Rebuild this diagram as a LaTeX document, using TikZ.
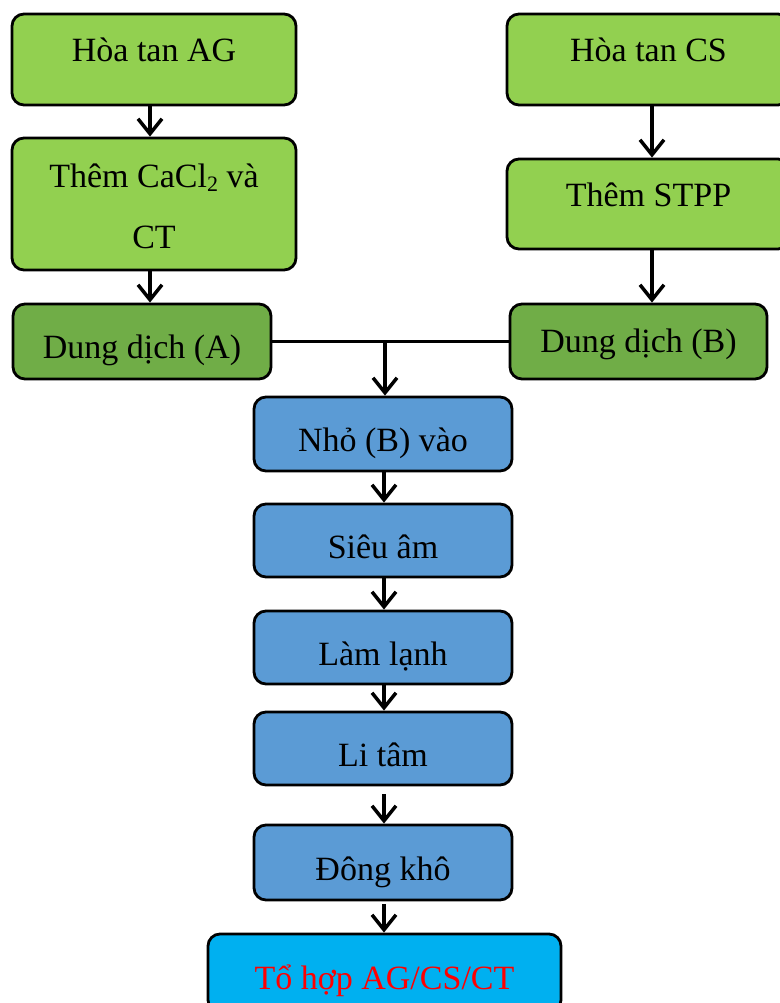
\documentclass[tikz,border=0pt]{standalone}
\usepackage{fontspec}
\setmainfont{Liberation Serif}
\usetikzlibrary{arrows.meta}
\definecolor{lgreen}{HTML}{92D050}
\definecolor{dgreen}{HTML}{70AD47}
\definecolor{mblue}{HTML}{5B9BD5}
\definecolor{cyanb}{HTML}{00B0F0}
\tikzset{
  box/.style={draw=black, line width=2.8pt, rounded corners=12pt, inner sep=0pt, anchor=center},
  lg/.style={box, fill=lgreen},
  dg/.style={box, fill=dgreen},
  bl/.style={box, fill=mblue},
  cy/.style={box, fill=cyanb},
  txt/.style={anchor=base, inner sep=0pt, font=\fontsize{34}{40}\selectfont},
  arr/.style={line width=3.5pt, -{Straight Barb[length=15pt,width=24pt,line width=3.5pt]}},
  ln/.style={line width=3.5pt}
}
\begin{document}
\begin{tikzpicture}[x=1pt,y=-1pt]
\useasboundingbox (0,0) rectangle (779,1003);
% boxes
\node[lg, minimum width=284pt, minimum height=91pt] (ag) at (154,59.5) {};
\node[lg, minimum width=284pt, minimum height=132pt] (th) at (154,204) {};
\node[dg, minimum width=258pt, minimum height=75pt] (dA) at (142,341.5) {};
\node[lg, minimum width=283pt, minimum height=91pt] (cs) at (648.5,59.5) {};
\node[lg, minimum width=283pt, minimum height=90pt] (st) at (648.5,204) {};
\node[dg, minimum width=257pt, minimum height=75pt] (dB) at (638.5,341.5) {};
\node[bl, minimum width=258pt, minimum height=74pt] (b1) at (383,434) {};
\node[bl, minimum width=258pt, minimum height=73pt] (b2) at (383,540.5) {};
\node[bl, minimum width=258pt, minimum height=73pt] (b3) at (383,647.5) {};
\node[bl, minimum width=258pt, minimum height=73pt] (b4) at (383,748.5) {};
\node[bl, minimum width=258pt, minimum height=75pt] (b5) at (383,862.5) {};
\node[cy, minimum width=353pt, minimum height=78pt] (fin) at (384.5,973) {};
% texts
\node[txt] (tag) at (154,62) {Hòa tan AG};
\node[txt] (tth1) at (154,188) {Thêm CaCl\raisebox{-3pt}{\fontsize{22}{24}\selectfont 2} và};
\node[txt] (tth2) at (154,248) {CT};
\node[txt] (tdA) at (142,358) {Dung dịch (A)};
\node[txt] (tcs) at (648.5,62) {Hòa tan CS};
\node[txt] (tst) at (648.5,207) {Thêm STPP};
\node[txt] (tdB) at (638.5,352) {Dung dịch (B)};
\node[txt] (tb1) at (383,451) {Nhỏ (B) vào};
\node[txt] (tb2) at (383,558) {Siêu âm};
\node[txt] (tb3) at (383,665) {Làm lạnh};
\node[txt] (tb4) at (383,766) {Li tâm};
\node[txt] (tb5) at (383,880) {Đông khô};
\node[txt, text=red] (tfin) at (384.5,989) {Tổ hợp AG/CS/CT};
% connectors
\draw[arr] (ag.south -| 150,0) -- (th.north -| 150,0);
\draw[arr] (th.south -| 150,0) -- (dA.north -| 150,0);
\draw[arr] (cs.south -| 652,0) -- (st.north -| 652,0);
\draw[arr] (st.south -| 652,0) -- (dB.north -| 652,0);
\draw[ln] (dA.east) -- (dB.west);
\coordinate (j) at (385,341.5);
\draw[arr] (j) -- (b1.north -| j);
\draw[arr] (b1.south -| 384,0) -- (b2.north -| 384,0);
\draw[arr] (b2.south -| 384,0) -- (b3.north -| 384,0);
\draw[arr] (b3.south -| 384,0) -- (b4.north -| 384,0);
\draw[arr, shorten <=8pt] (b4.south -| 384,0) -- (b5.north -| 384,0);
\draw[arr, shorten <=3pt] (b5.south -| 384,0) -- (fin.north -| 384,0);
\end{tikzpicture}
\end{document}
